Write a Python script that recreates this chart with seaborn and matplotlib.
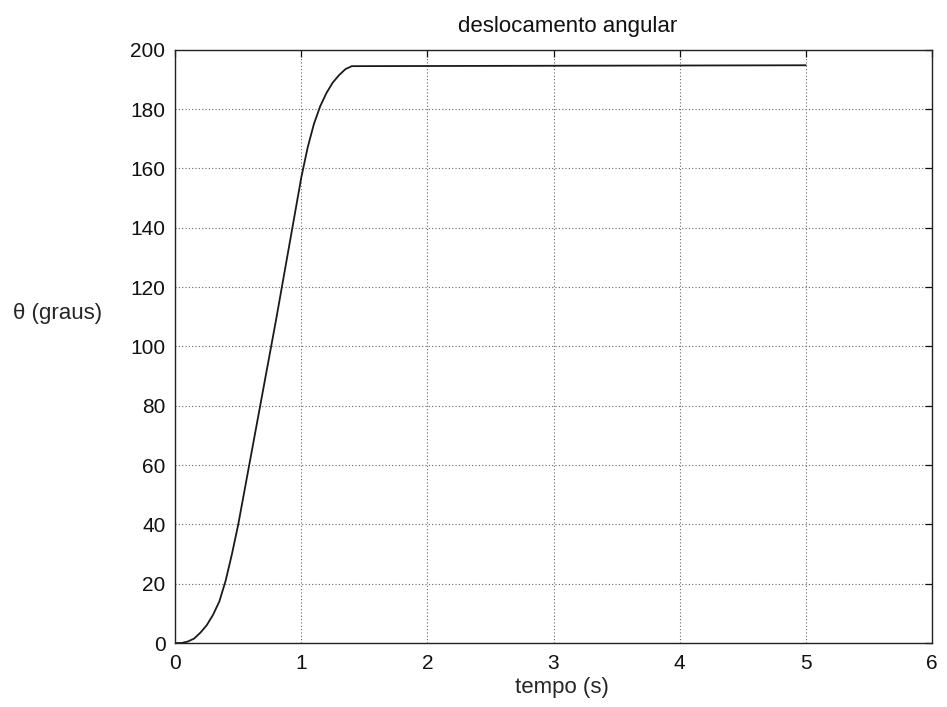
import matplotlib
matplotlib.use("Agg")
import matplotlib.pyplot as plt
import seaborn as sns
import pandas as pd

# angular displacement response (time in s, angle in degrees)
tempo = [0.0, 0.05, 0.1, 0.15, 0.2, 0.25, 0.3, 0.35, 0.4, 0.45, 0.5, 0.6, 0.7,
         0.8, 0.9, 1.0, 1.05, 1.1, 1.15, 1.2, 1.25, 1.3, 1.35, 1.4, 5.0]
theta = [0.0, 0.0, 0.5, 1.5, 3.5, 6.0, 9.5, 14.0, 21.0, 30.0, 40.0, 63.0, 86.0,
         109.0, 133.0, 157.0, 167.0, 175.0, 181.0, 185.5, 189.0, 191.5, 193.5,
         194.5, 194.8]
x_ticks = [0, 1, 2, 3, 4, 5, 6]
y_ticks = [0, 20, 40, 60, 80, 100, 120, 140, 160, 180, 200]

sns.set_style("white")
plt.rcParams["font.family"] = ["Liberation Sans", "DejaVu Sans"]
plt.rcParams["text.color"] = "#111111"

df = pd.DataFrame({"tempo": tempo, "theta": theta})

fig = plt.figure(figsize=(9.47, 7.07), dpi=100)
ax = fig.add_axes([0.185, 0.0905, 0.799, 0.839])

sns.lineplot(data=df, x="tempo", y="theta", ax=ax, color="#1a1a1a",
             linewidth=1.3, estimator=None, sort=False)

ax.set_xlim(0, 6)
ax.set_ylim(0, 200)
ax.set_xticks(x_ticks)
ax.set_yticks(y_ticks)
ax.grid(True, linestyle=(0, (1, 2)), color="#666666", linewidth=0.8)

for side in ax.spines.values():
    side.set_color("#222222")
    side.set_linewidth(1.0)

ax.tick_params(direction="in", length=5, width=0.9, top=True, right=True,
               labelsize=15, colors="#111111")
ax.tick_params(axis="x", pad=8)
ax.tick_params(axis="y", pad=7)

title = ax.set_title("deslocamento angular", fontsize=16, pad=13)
title.set_x(0.374)
title.set_horizontalalignment("left")

ax.set_xlabel("tempo (s)", fontsize=16, ha="left", va="top")
ax.xaxis.set_label_coords(0.449, -0.057)

ax.set_ylabel("\u03b8 (graus)", fontsize=16, rotation=0,
              ha="left", va="center")
ax.yaxis.set_label_coords(-0.214, 0.556)

fig.savefig("out.png", dpi=100, facecolor="white")
